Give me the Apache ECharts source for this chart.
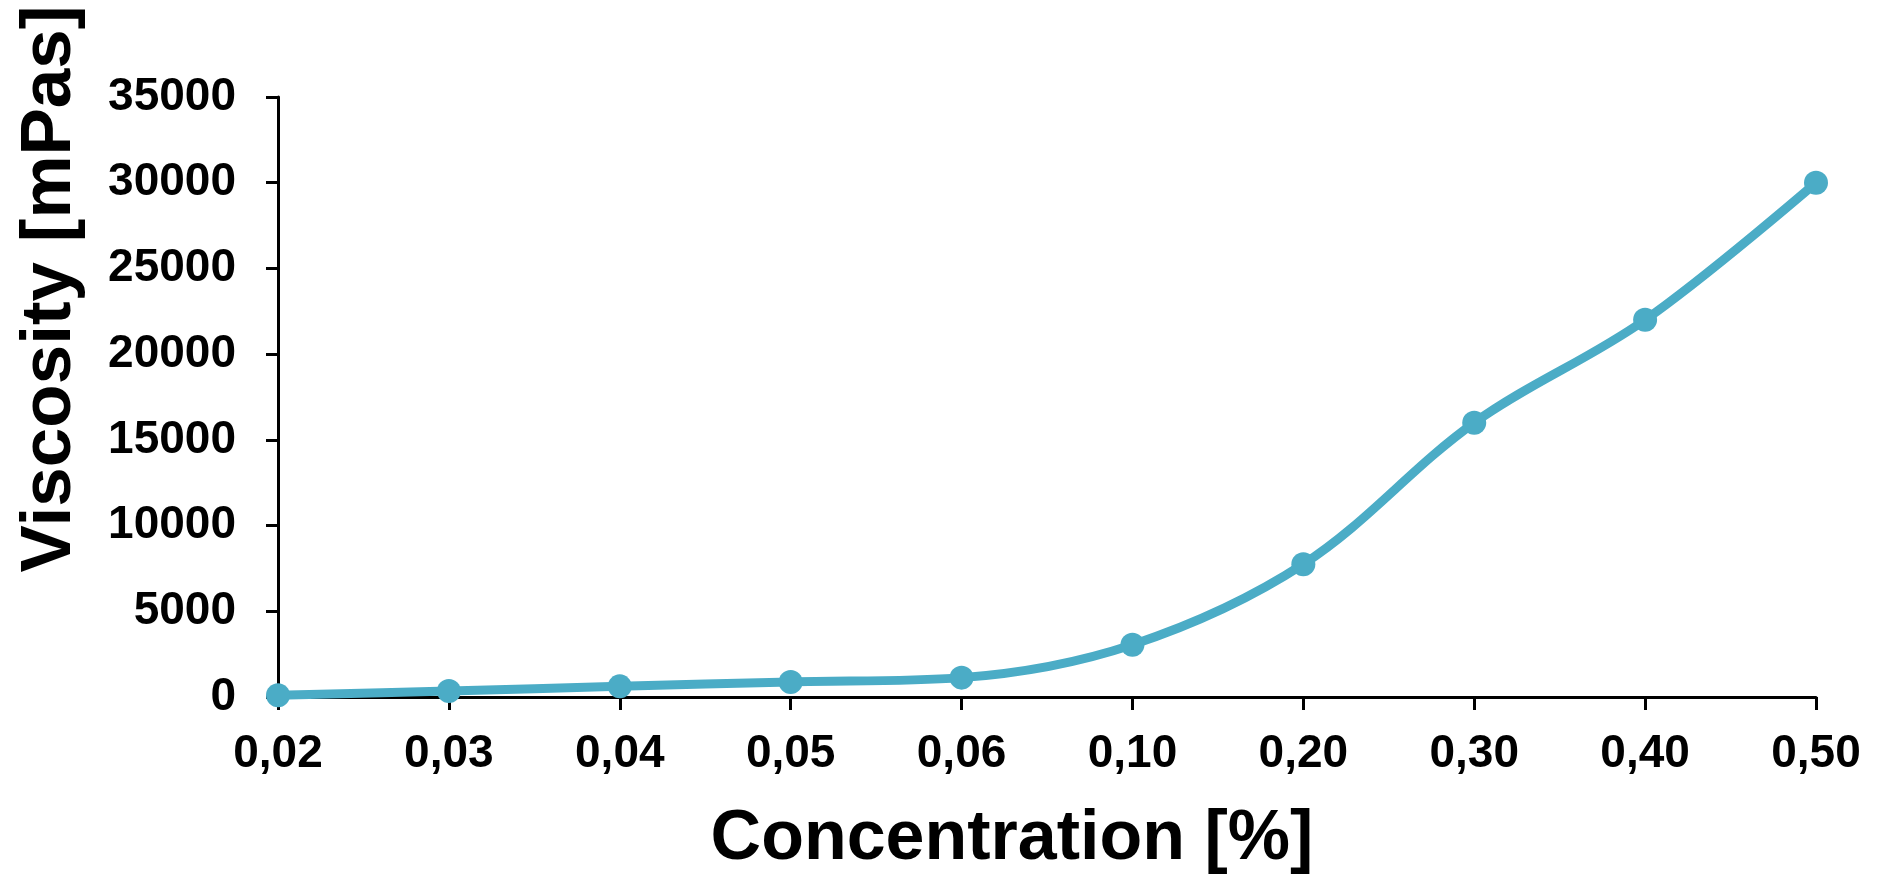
<!DOCTYPE html>
<html>
<head>
<meta charset="utf-8">
<script src="https://cdn.jsdelivr.net/npm/echarts@6/dist/echarts.min.js"></script>
<style>
html,body{margin:0;padding:0;background:#fff;}
#chart{width:1877px;height:878px;}
</style>
</head>
<body>
<div id="chart"></div>
<script>
const categories = ['0,02','0,03','0,04','0,05','0,06','0,10','0,20','0,30','0,40','0,50'];
const viscosity = [100, 350, 620, 880, 1130, 3050, 7750, 16000, 22000, 30000];
const xTitle = 'Concentration [%]';
const yTitle = 'Viscosity [mPas]';

const chart = echarts.init(document.getElementById('chart'));
const FONT = 'Liberation Sans, Arial, sans-serif';
chart.setOption({
  backgroundColor: '#ffffff',
  animation: false,
  grid: {left: 278, right: 61, top: 97, bottom: 181, containLabel: false, outerBoundsMode: 'none'},
  xAxis: {
    type: 'category',
    data: categories,
    boundaryGap: false,
    axisLine: {lineStyle: {color: '#000', width: 3}},
    axisTick: {show: true, alignWithLabel: true, length: 13, lineStyle: {color: '#000', width: 3}},
    axisLabel: {color: '#000', fontFamily: FONT, fontWeight: 'bold', fontSize: 46, margin: 34},
    splitLine: {show: false},
    name: xTitle,
    nameLocation: 'middle',
    nameGap: 108,
    nameTextStyle: {color: '#000', fontFamily: FONT, fontWeight: 'bold', fontSize: 70, padding: [0, 70, 0, 0]}
  },
  yAxis: {
    type: 'value',
    min: 0, max: 35000, interval: 5000,
    axisLine: {show: true, lineStyle: {color: '#000', width: 3}},
    axisTick: {show: true, length: 12, lineStyle: {color: '#000', width: 3}},
    axisLabel: {color: '#000', fontFamily: FONT, fontWeight: 'bold', fontSize: 46, margin: 42,
      formatter: function (v) { return String(v); }},
    splitLine: {show: false}
  },
  graphic: [{
    type: 'text',
    x: 50, y: 289,
    rotation: Math.PI / 2,
    style: {
      text: yTitle,
      fill: '#000',
      font: 'bold 71px ' + FONT,
      textAlign: 'center',
      textVerticalAlign: 'middle'
    }
  }],
  series: [{
    type: 'line',
    data: viscosity,
    smooth: 0.35,
    symbol: 'circle',
    symbolSize: 24,
    lineStyle: {color: '#4BACC6', width: 9},
    itemStyle: {color: '#4BACC6'}
  }]
});
</script>
</body>
</html>
